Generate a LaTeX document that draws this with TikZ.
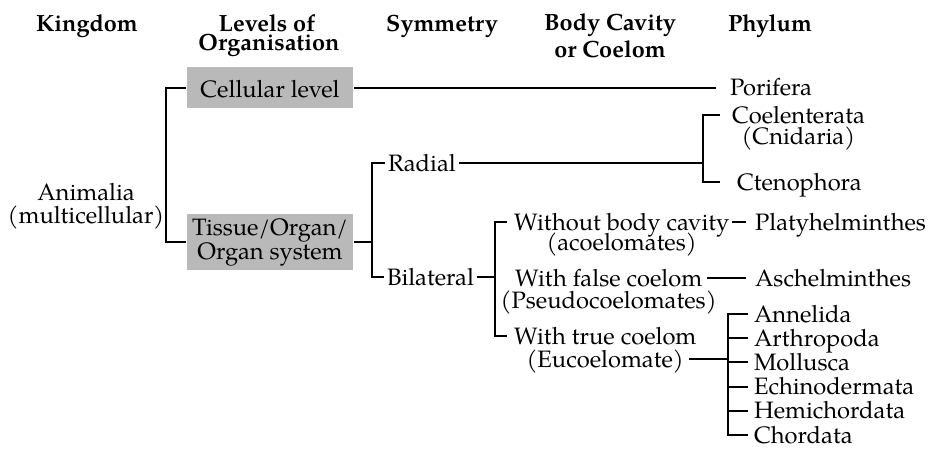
\documentclass[tikz,border=0pt]{standalone}
\usepackage{fontspec}
\setmainfont{texgyrepagella}[Extension=.otf,UprightFont=*-regular,BoldFont=*-bold,ItalicFont=*-italic,BoldItalicFont=*-bolditalic]
\definecolor{boxgray}{RGB}{185,185,185}
\newcommand{\bodyfont}{\fontsize{17.8pt}{18pt}\selectfont}
\newcommand{\hdrfont}{\fontsize{17.6pt}{18pt}\selectfont\bfseries}
\begin{document}
\begin{tikzpicture}[x=0.75pt,y=-0.75pt,line width=1.5pt,
  lbl/.style={inner sep=0pt,font=\bodyfont,text height=13pt,text depth=1pt},
  hdr/.style={inner sep=0pt,font=\hdrfont,anchor=base},
  lvlbox/.style={fill=boxgray,inner sep=0pt,minimum width=124.5pt,font=\bodyfont,align=center}]
\useasboundingbox (0,0) rectangle (928,457);
% headers
\node[hdr] (hking) at (87,31) {Kingdom};
\node[hdr] (hlev1) at (267,31) {Levels of};
\node[hdr] (hlev2) at (269,50) {Organisation};
\node[hdr] (hsym) at (442,31) {Symmetry};
\node[hdr] (hbod1) at (610,30) {Body Cavity};
\node[hdr] (hbod2) at (610,57) {or Coelom};
\node[hdr] (hphy) at (770,31) {Phylum};
% kingdom
\node[lbl,anchor=base] (anim) at (86,200) {Animalia};
\node[lbl,anchor=base] (multi) at (86,223) {(multicellular)};
% levels
\node[lvlbox,minimum height=30.75pt,text height=15pt,text depth=0pt] (cell) at (270,87.5) {Cellular level};
\node[lvlbox,minimum height=42pt] (tis) at (270,242) {Tissue/Organ/\\Organ system};
% symmetry
\node[lbl,anchor=west,inner xsep=1.5pt] (rad) at (385,163) {Radial};
\node[lbl,anchor=west,inner xsep=1.5pt] (bil) at (384,277) {Bilateral};
% body cavity
\node[lbl,anchor=west,inner xsep=1.5pt] (wbc) at (511,222) {Without body cavity};
\node[lbl,anchor=base] (acoel) at (wbc.center |- 0,250) {(acoelomates)};
\node[lbl,anchor=west,inner xsep=3pt] (wfc) at (510,278) {With false coelom};
\node[lbl,anchor=base] (pseudo) at (wfc.center |- 0,308) {(Pseudocoelomates)};
\node[lbl,anchor=west] (wtc) at (513,336) {With true coelom};
\node[lbl,anchor=base,inner xsep=3.5pt] (euc) at (wtc.center |- 0,367) {(Eucoelomate)};
% phyla
\node[lbl,anchor=west] (pori) at (729,87.5) {Porifera};
\node[lbl,anchor=west] (coel) at (731,115) {Coelenterata};
\node[lbl,anchor=base] (cnid) at (coel.center |- 0,144) {(Cnidaria)};
\node[lbl,anchor=west] (cten) at (736,182) {Ctenophora};
\node[lbl,anchor=west] (plat) at (754,222) {Platyhelminthes};
\node[lbl,anchor=west] (asch) at (754,278) {Aschelminthes};
\node[lbl,anchor=west] (ann) at (753,314) {Annelida};
\node[lbl,anchor=west] (art) at (753,338.2) {Arthropoda};
\node[lbl,anchor=west] (mol) at (753,362.4) {Mollusca};
\node[lbl,anchor=west] (ech) at (753,386.6) {Echinodermata};
\node[lbl,anchor=west] (hem) at (753,410.8) {Hemichordata};
\node[lbl,anchor=west] (cho) at (753,435) {Chordata};
% bracket coordinates
\coordinate (kb) at (166,0);
\coordinate (pe) at (716,0);
\coordinate (sb) at (372,0);
\coordinate (rb) at (703,0);
\coordinate (rt) at (720,0);
\coordinate (bb) at (495,0);
\coordinate (bt) at (507,0);
\coordinate (pt) at (746,0);
\coordinate (tb) at (728,0);
\coordinate (tt) at (748,0);
% connectors
\draw (cell.west) -- (cell.west -| kb) -- (tis.west -| kb) -- (tis.west);
\draw (cell.east) -- (cell.east -| pe);
\draw (tis.east) -- (tis.east -| sb);
\draw (rad.west) -- (rad.west -| sb) -- (bil.west -| sb) -- (bil.west);
\draw (rad.east) -- (rad.east -| rb);
\draw (coel.west -| rt) -- (coel.west -| rb) -- (cten.west -| rb) -- (cten.west -| rt);
\draw (bil.east) -- (bil.east -| bb);
\draw (wbc.west -| bt) -- (wbc.west -| bb) -- (wtc.west -| bb) -- (wtc.west -| bt);
\draw (wbc.east) -- (wbc.east -| pt);
\draw (wfc.east) -- (wfc.east -| pt);
\draw (euc.east) -- (euc.east -| tb);
\draw (ann.west -| tt) -- (ann.west -| tb) -- (cho.west -| tb) -- (cho.west -| tt);
\foreach \n in {art,mol,ech,hem} \draw (\n.west -| tb) -- (\n.west -| tt);
\end{tikzpicture}
\end{document}
